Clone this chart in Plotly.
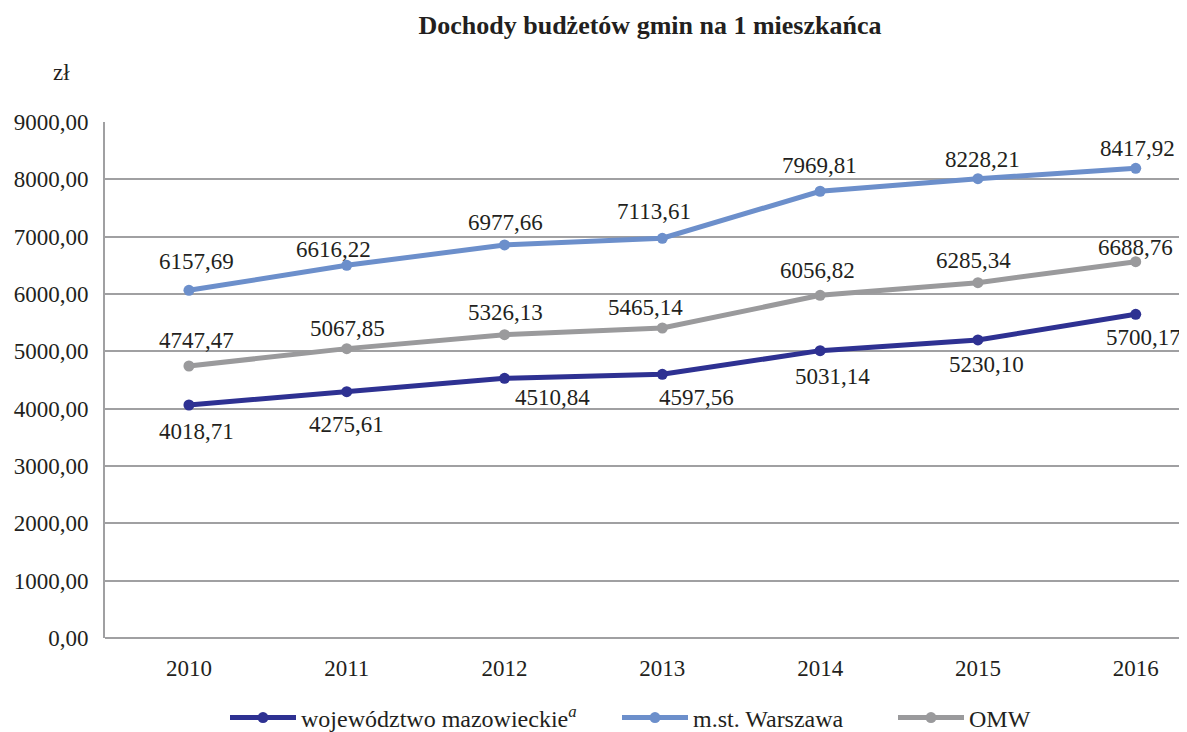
import plotly.graph_objects as go

years = ["2010", "2011", "2012", "2013", "2014", "2015", "2016"]

# plotted positions
maz_values = [4064, 4297, 4529, 4599, 5012, 5198, 5646]
war_values = [6064, 6500, 6855, 6972, 7792, 8012, 8193]
omw_values = [4744, 5047, 5291, 5407, 5977, 6198, 6564]

# printed data labels
maz_labels = ["4018,71", "4275,61", "4510,84", "4597,56", "5031,14", "5230,10", "5700,17"]
war_labels = ["6157,69", "6616,22", "6977,66", "7113,61", "7969,81", "8228,21", "8417,92"]
omw_labels = ["4747,47", "5067,85", "5326,13", "5465,14", "6056,82", "6285,34", "6688,76"]

y_ticks = [0, 1000, 2000, 3000, 4000, 5000, 6000, 7000, 8000, 9000]
y_ticktext = ["0,00", "1000,00", "2000,00", "3000,00", "4000,00", "5000,00",
              "6000,00", "7000,00", "8000,00", "9000,00"]

series_names = ["województwo mazowieckie<sup><i>a</i></sup>", "m.st. Warszawa", "OMW"]

# label offsets in pixels (dx, dy up)
war_off = [(8, 29), (-13, 16), (1, 22), (-8, 27), (-1, 26), (5, 19), (2, 20)]
omw_off = [(8, 26), (1, 20), (1, 22), (-17, 21), (-3, 25), (-4, 22), (0, 14)]
maz_off = [(8, -26), (0, -33), (48, -19), (34, -23), (12, -26), (9, -25), (8, -23)]

C_MAZ = "#2E3192"
C_WAR = "#6C8FCB"
C_OMW = "#9A9A9C"
FONT = "Liberation Serif"
TXT = "#231F20"
GRID = "#A0A0A2"

OFF = 8            # page body margin
W, H = 1187 - OFF, 732 - OFF
PL, PR, PT, PB = 105, 1187, 122, 638   # plot area in page pixels

xs = list(range(len(years)))
fig = go.Figure()
legend_ids = ["legend", "legend2", "legend3"]
for name, vals, col, lg in zip(series_names, [maz_values, war_values, omw_values],
                               [C_MAZ, C_WAR, C_OMW], legend_ids):
    fig.add_trace(go.Scatter(
        x=xs, y=vals, mode="lines+markers", name=name, legend=lg,
        line=dict(color=col, width=5),
        marker=dict(color=col, size=11),
    ))

annotations = []
for vals, labs, offs in [(war_values, war_labels, war_off),
                         (omw_values, omw_labels, omw_off),
                         (maz_values, maz_labels, maz_off)]:
    for i, (v, t, o) in enumerate(zip(vals, labs, offs)):
        annotations.append(dict(
            x=i, y=v, xref="x", yref="y", text=t, showarrow=False,
            xshift=o[0], yshift=o[1],
            font=dict(family=FONT, size=23, color=TXT)))

annotations.append(dict(text="zł", x=(62 - PL) / (PR - PL), y=(PB - 72) / (PB - PT),
                        xref="paper", yref="paper", showarrow=False,
                        xanchor="center", yanchor="middle",
                        font=dict(family=FONT, size=23, color=TXT)))

legend_x = [225, 617, 893]
def leg(px):
    return dict(orientation="h", x=(px - OFF) / W, xanchor="left", xref="container",
                yref="container", y=1 - (718 - OFF) / H, yanchor="middle",
                font=dict(family=FONT, size=24, color=TXT),
                bgcolor="rgba(0,0,0,0)", itemwidth=66)

fig.update_layout(
    width=W, height=H,
    margin=dict(l=PL - OFF, r=0, t=PT - OFF, b=H - (PB - OFF)),
    paper_bgcolor="white", plot_bgcolor="white",
    title=dict(text="<b>Dochody budżetów gmin na 1 mieszkańca</b>",
               x=(650 - OFF) / W, xanchor="center", xref="container",
               y=1 - (25 - OFF) / H, yanchor="middle", yref="container",
               font=dict(family=FONT, size=26, color=TXT)),
    showlegend=True,
    legend=leg(legend_x[0]), legend2=leg(legend_x[1]), legend3=leg(legend_x[2]),
    annotations=annotations,
)
fig.update_xaxes(
    range=[-0.532, 6.325], tickvals=xs, ticktext=years,
    showgrid=False, zeroline=False, showline=False,
    ticks="", ticklabelstandoff=14,
    tickfont=dict(family=FONT, size=23, color=TXT),
)
fig.update_yaxes(
    range=[0, 9000], tickvals=y_ticks, ticktext=y_ticktext,
    showgrid=True, gridcolor=GRID, gridwidth=2,
    zeroline=True, zerolinecolor=GRID, zerolinewidth=2,
    showline=True, linecolor=GRID, linewidth=2,
    ticks="", ticklabelstandoff=10,
    tickfont=dict(family=FONT, size=23, color=TXT),
)

fig.write_html("out.html")
